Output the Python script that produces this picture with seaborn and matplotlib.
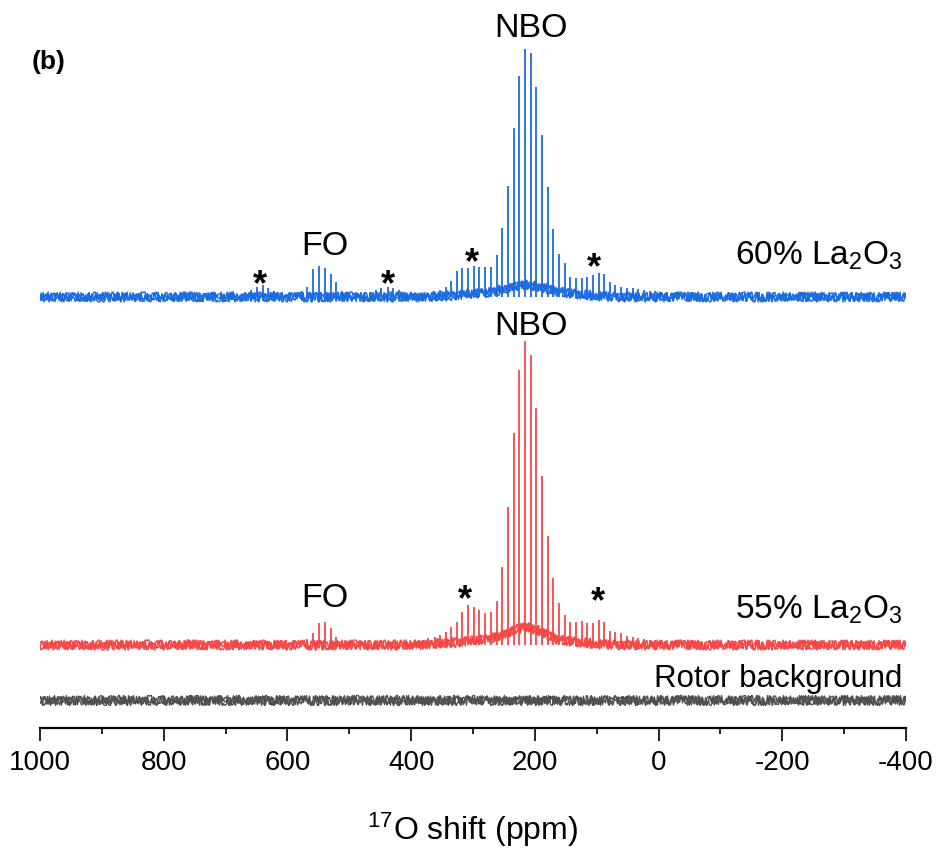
import numpy as np
import pandas as pd
import matplotlib
matplotlib.use("Agg")
import matplotlib.pyplot as plt
import seaborn as sns

# NBO spikelet manifold (ppm) and heights above each baseline
nbo_ppm = [381, 372, 362, 353, 344, 335, 326, 317, 308, 299,
           290, 280, 271, 262, 253, 244, 234, 225, 216, 207,
           198, 188, 179, 170, 161, 152, 143, 134, 124, 115,
           106, 97, 88, 79, 70, 60, 51, 42, 33, 24,
           14, 5, -4, -14, -23, -32]
nbo_60 = [3, 4, 5, 7, 10, 16, 26, 29, 29, 31,
          30, 30, 30, 42, 69, 111, 169, 221, 248, 244,
          210, 162, 110, 68, 43, 34, 20, 19, 19, 20,
          22, 24, 23, 15, 12, 10, 9, 9, 8, 7,
          6, 6, 5, 5, 4, 4]
nbo_55 = [5, 7, 8, 10, 13, 18, 23, 33, 40, 38,
          35, 32, 33, 44, 78, 138, 212, 275, 304, 290,
          237, 169, 109, 67, 42, 30, 23, 23, 24, 22,
          22, 25, 23, 14, 13, 12, 9, 8, 7, 6,
          5, 5, 4, 4, 4, 3]

# FO spikelets + outer spinning sidebands
fo60_ppm = [668, 659, 649, 640, 631, 622, 577, 568, 559, 549, 540, 530, 521, 512,
            466, 457, 448, 438, 429, 420, 411]
fo60 = [5, 7, 10, 12, 9, 6, 6, 10, 28, 31, 29, 23, 15, 6,
        5, 7, 9, 10, 9, 7, 5]
fo55_ppm = [568, 559, 549, 540, 530, 521]
fo55 = [6, 12, 22, 23, 17, 8]

# broad underlying hump
hump_ppm = [1000, 400, 340, 300, 270, 250, 230, 215, 200, 180, 160, 130, 100, 60, -400]
hump_60 = [0, 0, 1, 3, 5, 8, 11, 12, 11, 8, 5, 3, 1, 0, 0]
hump_55 = [0, 0, 2, 4, 7, 11, 16, 18, 16, 10, 5, 3, 1, 0, 0]
rotor_ppm = [1000, -400]
rotor = [0, 0]

BLUE = "#1c6ce0"
RED = "#f44848"
GREY = "#4f4f4f"

sns.set_theme(style="ticks")
plt.rcParams["font.family"] = ["Liberation Sans", "DejaVu Sans"]
plt.rcParams["mathtext.fontset"] = "custom"
plt.rcParams["mathtext.rm"] = "Liberation Sans"
plt.rcParams["mathtext.it"] = "Liberation Sans:italic"
plt.rcParams["axes.unicode_minus"] = False
plt.rcParams["text.color"] = "black"
plt.rcParams["axes.labelcolor"] = "black"
plt.rcParams["xtick.color"] = "black"

fig = plt.figure(figsize=(9.39, 8.5), dpi=100)
ax = fig.add_axes([40 / 939, 122 / 850, 866 / 939, 728 / 850])

traces = [
    (hump_ppm, hump_60, [nbo_ppm, fo60_ppm], [nbo_60, fo60], BLUE, 431),
    (hump_ppm, hump_55, [nbo_ppm, fo55_ppm], [nbo_55, fo55], RED, 83),
    (rotor_ppm, rotor, [], [], GREY, 28),
]

# a few sketch layers so the baseline reads as dense noise
noise_layers = [(4.5, 0.5, 4.0), (3.5, 0.37, 5.0), (5.0, 0.29, 3.0)]

for bx, by, sx, sy, col, off in traces:
    df = pd.DataFrame({"ppm": bx, "I": np.array(by) + off})
    for sc, ln, rnd in noise_layers:
        sns.lineplot(data=df, x="ppm", y="I", ax=ax, color=col, lw=1.0)
        ax.lines[-1].set_sketch_params(scale=sc, length=ln, randomness=rnd)
    for px, h in zip(sx, sy):
        ax.vlines(px, off, np.array(h) + off, color=col, lw=1.3)

ax.set_xlim(1000, -400)
ax.set_ylim(0, 728)
ax.set_yticks([])
ax.set_ylabel("")
for s in ["left", "top", "right"]:
    ax.spines[s].set_visible(False)
ax.spines["bottom"].set_linewidth(1.6)
ax.spines["bottom"].set_color("black")

ax.set_xticks(np.arange(1000, -401, -200))
ax.set_xticks(np.arange(900, -400, -200), minor=True)
ax.tick_params(axis="x", which="major", length=9.5, width=1.2, pad=6, labelsize=20)
ax.tick_params(axis="x", which="minor", length=4.5, width=1.2)
ax.set_xlabel("$^{17}$O shift (ppm)", fontsize=23, labelpad=25)

lab_kw = dict(fontsize=24.5, color="black")
ax.text(206, 691, "NBO", ha="center", va="baseline", **lab_kw)
ax.text(206, 393, "NBO", ha="center", va="baseline", **lab_kw)
ax.text(540, 473, "FO", ha="center", va="baseline", **lab_kw)
ax.text(540, 121, "FO", ha="center", va="baseline", **lab_kw)
ax.text(-394, 463, "60% La$_2$O$_3$", ha="right", va="baseline", fontsize=24)
ax.text(-395, 109, "55% La$_2$O$_3$", ha="right", va="baseline", fontsize=24)
ax.text(-394, 41, "Rotor background", ha="right", va="baseline", fontsize=22.5)

for x, y in [(644, 433), (437, 433), (302, 455), (104, 450), (313, 118), (98, 116)]:
    ax.text(x, y, "*", ha="center", va="baseline", fontsize=26, fontweight="bold")

fig.text(32 / 939, 1 - 69 / 850, "(b)", fontsize=19, fontweight="bold", va="baseline")

fig.savefig("out.png", dpi=100)
